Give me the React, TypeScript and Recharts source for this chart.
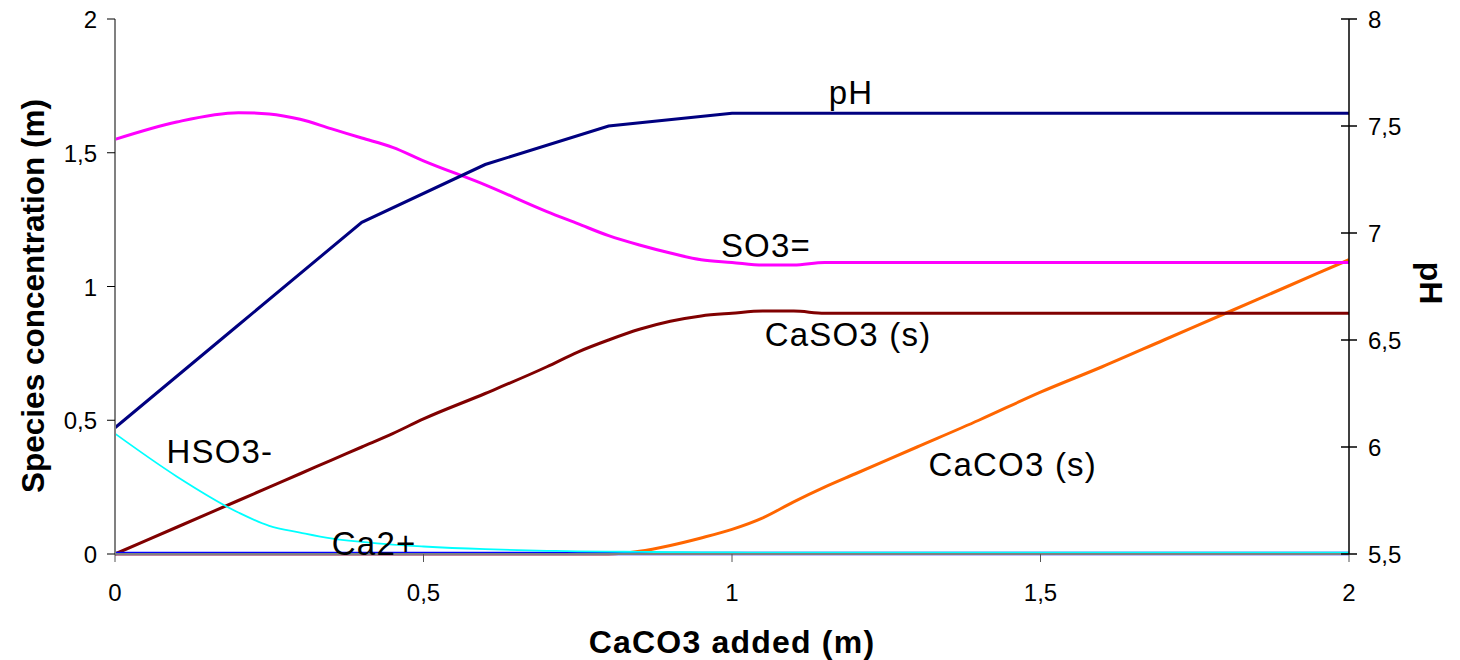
import React from "react";
import { LineChart, Line, XAxis, YAxis, ReferenceDot } from "recharts";

// CaCO3 added (m) – shared x grid for the species curves
const speciesX = [
  0, 0.1, 0.2, 0.25, 0.3, 0.35, 0.4, 0.45, 0.5, 0.6, 0.7, 0.75, 0.8, 0.85, 0.9,
  0.95, 1, 1.05, 1.1, 1.15, 1.2, 1.3, 1.4, 1.5, 1.6, 1.7, 1.8, 1.9, 2,
];
const so3 = [
  1.55, 1.615, 1.65, 1.645, 1.625, 1.59, 1.555, 1.52, 1.47, 1.38, 1.28, 1.235,
  1.19, 1.155, 1.125, 1.1, 1.09, 1.08, 1.08, 1.09, 1.09, 1.09, 1.09, 1.09, 1.09,
  1.09, 1.09, 1.09, 1.09,
];
const caso3 = [
  0, 0.1, 0.2, 0.25, 0.3, 0.35, 0.4, 0.45, 0.505, 0.6, 0.7, 0.755, 0.8, 0.84,
  0.87, 0.89, 0.9, 0.908, 0.908, 0.9, 0.9, 0.9, 0.9, 0.9, 0.9, 0.9, 0.9, 0.9, 0.9,
];
const hso3 = [
  0.45, 0.29, 0.155, 0.105, 0.08, 0.058, 0.045, 0.035, 0.028, 0.018, 0.012, 0.01,
  0.009, 0.008, 0.007, 0.006, 0.006, 0.005, 0.005, 0.005, 0.005, 0.005, 0.005,
  0.005, 0.005, 0.005, 0.005, 0.005, 0.005,
];
const ca2 = [
  0.002, 0.002, 0.002, 0.002, 0.002, 0.002, 0.002, 0.002, 0.002, 0.002, 0.002,
  0.002, 0.002, 0.002, 0.002, 0.002, 0.002, 0.002, 0.002, 0.002, 0.002, 0.002,
  0.002, 0.002, 0.002, 0.002, 0.002, 0.002, 0.002,
];
const caco3 = [
  0, 0, 0, 0, 0, 0, 0, 0, 0, 0, 0, 0, 0, 0.01, 0.032, 0.06, 0.092, 0.135, 0.195,
  0.25, 0.3, 0.4, 0.5, 0.605, 0.7, 0.8, 0.9, 1.0, 1.1,
];

// pH (right axis)
const phX = [0, 0.2, 0.4, 0.6, 0.8, 1, 1.2, 1.4, 1.6, 1.8, 2];
const ph = [6.09, 6.57, 7.05, 7.32, 7.5, 7.56, 7.56, 7.56, 7.56, 7.56, 7.56];

const xTicks = [0, 0.5, 1, 1.5, 2];
const leftTicks = [0, 0.5, 1, 1.5, 2];
const rightTicks = [5.5, 6, 6.5, 7, 7.5, 8];

// in-plot curve labels (text, x, left-axis y)
const curveLabels = [
  { text: "pH", x: 1.193, y: 1.682 },
  { text: "SO3=", x: 1.055, y: 1.11 },
  { text: "CaSO3 (s)", x: 1.188, y: 0.778 },
  { text: "HSO3-", x: 0.17, y: 0.34 },
  { text: "Ca2+", x: 0.42, y: -0.004 },
  { text: "CaCO3 (s)", x: 1.455, y: 0.292 },
];

const FONT = "'Liberation Sans', Arial, Helvetica, sans-serif";
const fmt = (v: number) => String(v).replace(".", ",");

const toPoints = (xs: number[], ys: number[]) =>
  xs.map((x, i) => ({ x, y: ys[i] }));

function LeftTick({ x, y, payload }: any) {
  return (
    <text x={x} y={y} dy={9} textAnchor="end" fontSize={24} fill="#000" fontFamily={FONT}>
      {fmt(payload.value)}
    </text>
  );
}

function BottomTick({ x, y, payload }: any) {
  return (
    <text x={x} y={y} dy={17} textAnchor="middle" fontSize={24} fill="#000" fontFamily={FONT}>
      {fmt(payload.value)}
    </text>
  );
}

function RightTick({ x, y, payload }: any) {
  const ax = x - 19;
  return (
    <g>
      <line x1={ax - 8} x2={ax + 8} y1={y} y2={y} stroke="#000" strokeWidth={1.5} />
      <text x={x} y={y} dy={9} textAnchor="start" fontSize={24} fill="#000" fontFamily={FONT}>
        {fmt(payload.value)}
      </text>
    </g>
  );
}

export default function App() {
  return (
    <div style={{ width: 1444, height: 652, background: "#fff" }}>
      <style>{"svg { overflow: visible; }"}</style>
      <LineChart
        width={1444}
        height={652}
        margin={{ top: 11, right: 0, bottom: 0, left: 0 }}
      >
        <XAxis
          dataKey="x"
          type="number"
          domain={[0, 2]}
          ticks={xTicks}
          height={106}
          tick={<BottomTick />}
          tickSize={8}
          tickMargin={22}
          axisLine={{ stroke: "#808080", strokeWidth: 2 }}
          tickLine={{ stroke: "#555" }}
          label={{
            content: () => (
              <text
                x={724}
                y={645}
                textAnchor="middle"
                fontSize={32}
                letterSpacing={1.2}
                fontWeight="bold"
                fontFamily={FONT}
                fill="#000"
              >
                CaCO3 added (m)
              </text>
            ),
          }}
        />
        <YAxis
          yAxisId="left"
          domain={[0, 2]}
          ticks={leftTicks}
          width={107}
          tick={<LeftTick />}
          tickSize={8}
          tickMargin={10}
          axisLine={{ stroke: "#808080", strokeWidth: 2 }}
          tickLine={{ stroke: "#000" }}
          label={{
            content: () => (
              <text
                x={25}
                y={288}
                transform="rotate(-90, 25, 288)"
                textAnchor="middle"
                dominantBaseline="central"
                fontSize={31.5}
                fontWeight="bold"
                fontFamily={FONT}
                fill="#000"
              >
                Species concentration (m)
              </text>
            ),
          }}
        />
        <YAxis
          yAxisId="right"
          orientation="right"
          domain={[5.5, 8]}
          ticks={rightTicks}
          width={103}
          tick={<RightTick />}
          tickSize={8}
          tickMargin={11}
          tickLine={false}
          axisLine={{ stroke: "#000", strokeWidth: 1.5 }}
          label={{
            content: () => (
              <text
                x={1423}
                y={275}
                transform="rotate(90, 1423, 275)"
                textAnchor="middle"
                dominantBaseline="central"
                fontSize={32}
                fontWeight="bold"
                fontFamily={FONT}
                fill="#000"
              >
                pH
              </text>
            ),
          }}
        />

        <Line
          yAxisId="left"
          data={toPoints(speciesX, caco3)}
          dataKey="y"
          type="monotone"
          stroke="#FF6600"
          strokeWidth={3}
          dot={false}
          activeDot={false}
          isAnimationActive={false}
        />
        <Line
          yAxisId="left"
          data={toPoints(speciesX, caso3)}
          dataKey="y"
          type="monotone"
          stroke="#800000"
          strokeWidth={3}
          dot={false}
          activeDot={false}
          isAnimationActive={false}
        />
        <Line
          yAxisId="left"
          data={toPoints(speciesX, so3)}
          dataKey="y"
          type="monotone"
          stroke="#FF00FF"
          strokeWidth={3}
          dot={false}
          activeDot={false}
          isAnimationActive={false}
        />
        <Line
          yAxisId="right"
          data={toPoints(phX, ph)}
          dataKey="y"
          type="linear"
          stroke="#000080"
          strokeWidth={3}
          dot={false}
          activeDot={false}
          isAnimationActive={false}
        />
        <Line
          yAxisId="left"
          data={toPoints(speciesX, ca2)}
          dataKey="y"
          type="linear"
          stroke="#0000FF"
          strokeWidth={3.5}
          dot={false}
          activeDot={false}
          isAnimationActive={false}
        />
        <Line
          yAxisId="left"
          data={toPoints(speciesX, hso3)}
          dataKey="y"
          type="monotone"
          stroke="#00FFFF"
          strokeWidth={1.8}
          dot={false}
          activeDot={false}
          isAnimationActive={false}
        />

        {curveLabels.map((l) => (
          <ReferenceDot
            key={l.text}
            yAxisId="left"
            x={l.x}
            y={l.y}
            r={0}
            ifOverflow="visible"
            shape={(p: any) => (
              <text
                x={p.cx}
                y={p.cy}
                textAnchor="middle"
                fontSize={33}
                letterSpacing={1.2}
                fontFamily={FONT}
                fill="#000"
              >
                {l.text}
              </text>
            )}
          />
        ))}
      </LineChart>
    </div>
  );
}
